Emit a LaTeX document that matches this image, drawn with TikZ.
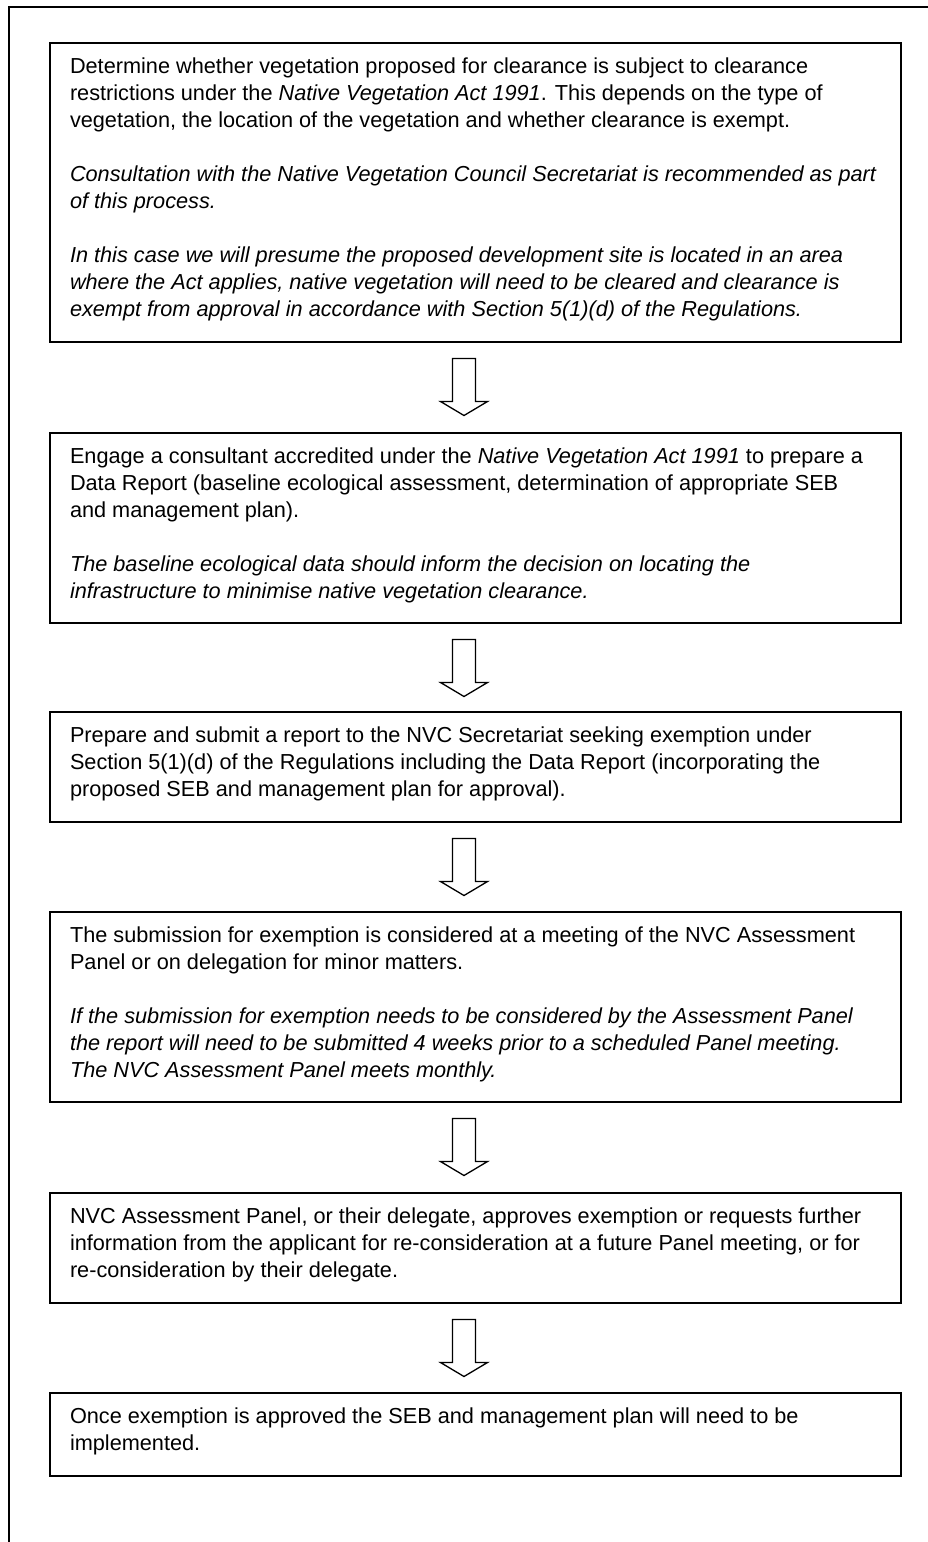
\documentclass[tikz,border=0pt]{standalone}
\usepackage{fontspec}
\setmainfont{Liberation Sans}
\usetikzlibrary{calc}
\newcommand\boxtext[2]{\parbox[c][#1pt][t]{851pt}{\fontsize{21.7pt}{27pt}\selectfont\raggedright\leftskip=20pt\rule{0pt}{30pt}#2}}
\newcommand\skipline{\\[\baselineskip]}
\newcommand\blockarrow[1]{\draw[arrowline] (#1) ++(-11.5,0) -- ++(0,43) -- ++(-12,0) -- ++(23.5,14) -- ++(23.5,-14) -- ++(-12,0) -- ++(0,-43) -- cycle;}
\tikzset{
  stepbox/.style={draw, line width=1.8pt, inner sep=0pt, outer sep=0pt, anchor=north west},
  arrowline/.style={line width=1.3pt, line join=miter},
  frameline/.style={line width=2.5pt}
}
\begin{document}
\begin{tikzpicture}[x=1pt,y=-1pt]
\useasboundingbox (0,0) rectangle (927,1542);
\draw[frameline] (9,1550) -- (9,7) -- (935,7);

\node[stepbox] (b1) at (50,43) {\boxtext{299}{%
Determine whether vegetation proposed for clearance is subject to clearance\\
restrictions under the {\itshape Native Vegetation Act 1991}. This depends on the type of\\
vegetation, the location of the vegetation and whether clearance is exempt.\skipline
\itshape Consultation with the Native Vegetation Council Secretariat is recommended as part\\
of this process.\skipline
In this case we will presume the proposed development site is located in an area\\
where the Act applies, native vegetation will need to be cleared and clearance is\\
exempt from approval in accordance with Section 5(1)(d) of the Regulations.}};

\node[stepbox] (b2) at (50,433) {\boxtext{190}{%
Engage a consultant accredited under the {\itshape Native Vegetation Act 1991} to prepare a\\
Data Report (baseline ecological assessment, determination of appropriate SEB\\
and management plan).\skipline
\itshape The baseline ecological data should inform the decision on locating the\\
infrastructure to minimise native vegetation clearance.}};

\node[stepbox] (b3) at (50,712) {\boxtext{110}{%
Prepare and submit a report to the NVC Secretariat seeking exemption under\\
Section 5(1)(d) of the Regulations including the Data Report (incorporating the\\
proposed SEB and management plan for approval).}};

\node[stepbox] (b4) at (50,912) {\boxtext{190}{%
The submission for exemption is considered at a meeting of the NVC Assessment\\
Panel or on delegation for minor matters.\skipline
\itshape If the submission for exemption needs to be considered by the Assessment Panel\\
the report will need to be submitted 4 weeks prior to a scheduled Panel meeting.\\
The NVC Assessment Panel meets monthly.}};

\node[stepbox] (b5) at (50,1193) {\boxtext{110}{%
NVC Assessment Panel, or their delegate, approves exemption or requests further\\
information from the applicant for re-consideration at a future Panel meeting, or for\\
re-consideration by their delegate.}};

\node[stepbox] (b6) at (50,1393) {\boxtext{83}{%
Once exemption is approved the SEB and management plan will need to be\\
implemented.}};

\coordinate (a1) at ($(b1.south)+(-11.5,16.5)$);
\coordinate (a2) at ($(b2.south)+(-11.5,16.5)$);
\coordinate (a3) at ($(b3.south)+(-11.5,16.5)$);
\coordinate (a4) at ($(b4.south)+(-11.5,16.5)$);
\coordinate (a5) at ($(b5.south)+(-11.5,16.5)$);
\blockarrow{a1}
\blockarrow{a2}
\blockarrow{a3}
\blockarrow{a4}
\blockarrow{a5}
\end{tikzpicture}
\end{document}
